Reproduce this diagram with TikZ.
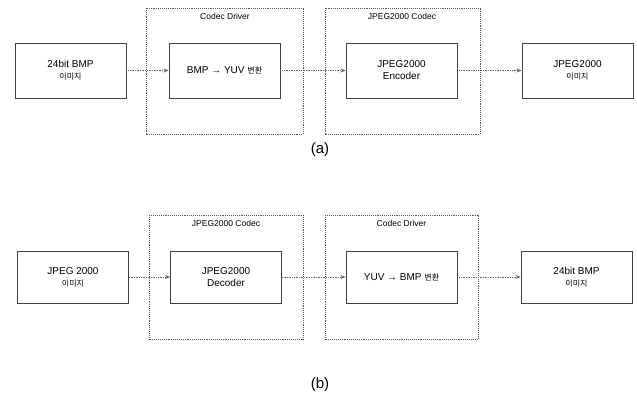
\documentclass[tikz,border=0pt]{standalone}
\usepackage{fontspec}
\setmainfont{Liberation Sans}
\newfontfamily\kr{Noto Sans CJK KR}
\usetikzlibrary{arrows.meta}
\begin{document}
\begin{tikzpicture}[x=1pt,y=-1pt,
  blk/.style={draw=black!75, line width=0.9pt, minimum width=111pt, minimum height=55pt, align=center, font=\fontsize{10}{12}\selectfont, inner sep=0pt},
  grp/.style={draw=black!65, line width=0.9pt, densely dotted},
  grplabel/.style={font=\fontsize{8.5}{10}\selectfont, anchor=north},
  conn/.style={draw=black!60, line width=0.7pt, densely dotted, -{Stealth[length=5pt,width=4pt]}},
  figcap/.style={font=\fontsize{15}{18}\selectfont}]
\useasboundingbox (0,0) rectangle (637,401);
% ---- (a)
\draw[grp] (146,8) rectangle (303,134);
\node[grplabel] (ga) at (225,10) {Codec Driver};
\draw[grp] (325,8) rectangle (480,134);
\node[grplabel] (gb) at (402,10) {JPEG2000 Codec};
\node[blk] (a1) at (70.5,70.5) {24bit BMP\\{\kr\fontsize{8}{10}\selectfont 이미지}};
\node[blk] (a2) at (224.5,70.5) {BMP → YUV {\kr\fontsize{8}{10}\selectfont 변환}};
\node[blk] (a3) at (401.5,70.5) {JPEG2000\\Encoder};
\node[blk] (a4) at (577.5,70.5) {JPEG2000\\{\kr\fontsize{8}{10}\selectfont 이미지}};
\draw[conn] (a1) -- (a2);
\draw[conn] (a2) -- (a3);
\draw[conn] (a3) -- (a4);
\node[figcap] (capa) at (320,150) {(a)};
% ---- (b)
\draw[grp] (149,215) rectangle (303,339);
\node[grplabel] (gc) at (226,217) {JPEG2000 Codec};
\draw[grp] (325,215) rectangle (478,339);
\node[grplabel] (gd) at (401.5,217) {Codec Driver};
\node[blk, minimum height=52pt] (b1) at (73,277) {JPEG 2000\\{\kr\fontsize{8}{10}\selectfont 이미지}};
\node[blk, minimum height=52pt] (b2) at (226,277) {JPEG2000\\Decoder};
\node[blk, minimum height=52pt] (b3) at (401.5,277) {YUV → BMP {\kr\fontsize{8}{10}\selectfont 변환}};
\node[blk, minimum height=52pt] (b4) at (576.5,277) {24bit BMP\\{\kr\fontsize{8}{10}\selectfont 이미지}};
\draw[conn] (b1) -- (b2);
\draw[conn] (b2) -- (b3);
\draw[conn] (b3) -- (b4);
\node[figcap] (capb) at (320,385) {(b)};
\end{tikzpicture}
\end{document}
